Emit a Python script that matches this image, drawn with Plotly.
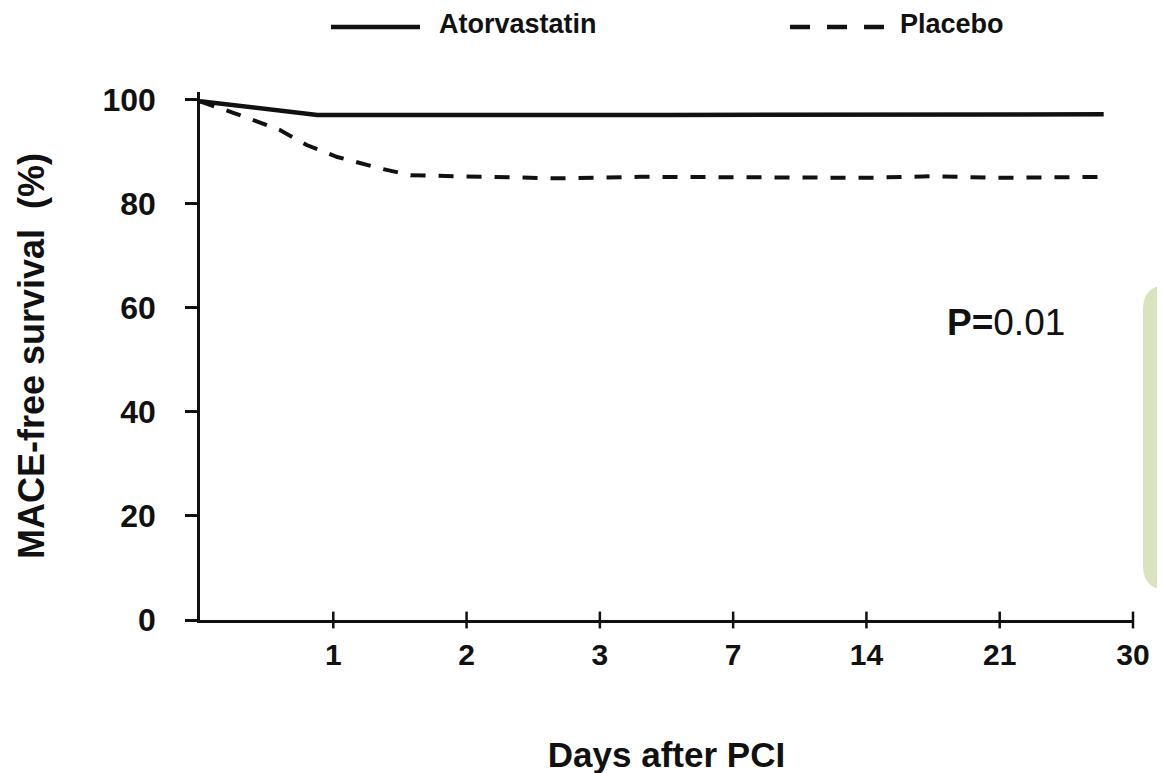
import plotly.graph_objects as go

# ---- data ----
tick_pos = [1, 2, 3, 4, 5, 6, 7]
tick_labels = ["1", "2", "3", "7", "14", "21", "30"]

ator_x = [0, 0.88, 3.5, 6.78]
ator_y = [99.7, 97.1, 97.1, 97.2]

placebo_x = [0, 0.25, 0.6, 0.8, 1.03, 1.37, 1.58, 2.2, 2.7, 3.3, 4.0, 4.6, 5.0, 5.5, 6.0, 6.83]
placebo_y = [99.7, 97.5, 94.2, 91.3, 89.0, 86.7, 85.5, 85.1, 84.9, 85.2, 85.1, 85.2, 85.0, 85.3, 85.0, 85.2]

p_text = "<b>P=</b>0.01"

FONT = "Arial, 'Liberation Sans', sans-serif"

fig = go.Figure()

fig.add_trace(go.Scatter(
    x=ator_x, y=ator_y, mode="lines", name="Atorvastatin",
    line=dict(color="#111111", width=4.5), cliponaxis=False, showlegend=False))

fig.add_trace(go.Scatter(
    x=placebo_x, y=placebo_y, mode="lines", name="Placebo",
    line=dict(color="#111111", width=4, dash="15px,13px"), cliponaxis=False, showlegend=False))

# crossing x tick marks
fig.add_trace(go.Scatter(
    x=tick_pos, y=[0] * len(tick_pos), mode="markers", hoverinfo="skip",
    marker=dict(symbol="line-ns", size=12, line=dict(color="#111111", width=2.5)),
    cliponaxis=False, showlegend=False))

fig.update_layout(
    width=1165, height=773,
    margin=dict(l=192, r=40, t=84, b=161),
    paper_bgcolor="white", plot_bgcolor="white",
    font=dict(family=FONT, color="#111111"),
    showlegend=False,
)

fig.update_xaxes(
    range=[0, 7], showgrid=False, zeroline=False,
    showline=True, linecolor="#111111", linewidth=2.5,
    tickmode="array", tickvals=tick_pos, ticktext=tick_labels,
    ticks="", ticklabelstandoff=6,
    tickfont=dict(size=30, family=FONT, weight="bold", color="#111111"),
    title=dict(text="Days after PCI", standoff=73,
               font=dict(size=35, family=FONT, weight="bold", color="#111111")),
)

fig.update_yaxes(
    range=[0, 101.5], showgrid=False, zeroline=False,
    showline=True, linecolor="#111111", linewidth=2.5,
    tickmode="array", tickvals=[0, 20, 40, 60, 80, 100],
    ticks="outside", ticklen=12, tickwidth=2.5, tickcolor="#111111",
    ticklabelstandoff=23,
    tickfont=dict(size=32, family=FONT, weight="bold", color="#111111"),
    title=dict(text="MACE-free survival  (%)", standoff=47,
               font=dict(size=36, family=FONT, weight="bold", color="#111111")),
)

# P value annotation
fig.add_annotation(x=6.05, y=57.1, xref="x", yref="y", text=p_text, showarrow=False,
                   font=dict(size=37, family=FONT, color="#111111"))

# legend drawn at top
fig.add_shape(type="line", xref="paper", yref="paper", x0=0.1404, x1=0.2358, y0=1.123, y1=1.123,
              line=dict(color="#111111", width=4.5))
fig.add_shape(type="line", xref="paper", yref="paper", x0=0.6324, x1=0.7331, y0=1.123, y1=1.123,
              line=dict(color="#111111", width=4.5, dash="20px,17px"))
fig.add_annotation(x=0.2551, y=1.128, xref="paper", yref="paper", xanchor="left", yanchor="middle",
                   text="<b>Atorvastatin</b>", showarrow=False, borderpad=0,
                   font=dict(size=27, family=FONT, color="#111111"))
fig.add_annotation(x=0.7492, y=1.128, xref="paper", yref="paper", xanchor="left", yanchor="middle",
                   text="<b>Placebo</b>", showarrow=False, borderpad=0,
                   font=dict(size=27, family=FONT, color="#111111"))

# light green rounded box partly visible at right edge
fig.add_shape(type="path", xref="paper", yref="paper", layer="below",
              path="M 1.0375,0.6345 L 1.08,0.6345 L 1.08,0.0568 L 1.0375,0.0568 "
                   "Q 1.0107,0.0568 1.0107,0.104 L 1.0107,0.587 Q 1.0107,0.6345 1.0375,0.6345 Z",
              fillcolor="#d9e4bf", line=dict(width=0))

fig.write_html("out.html")
